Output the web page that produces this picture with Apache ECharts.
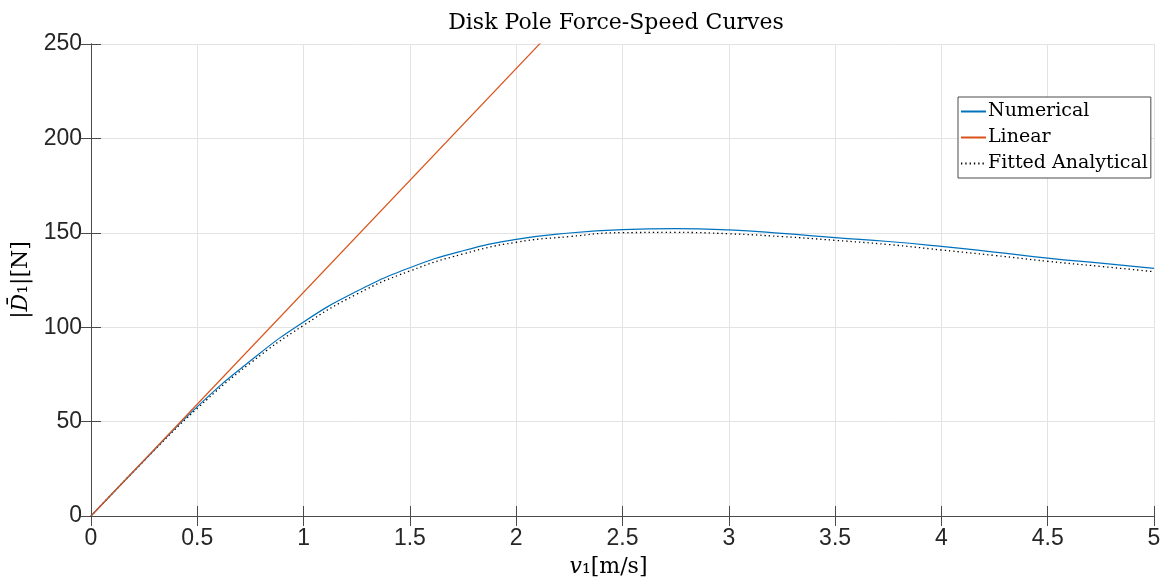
<!DOCTYPE html>
<html>
<head>
<meta charset="utf-8">
<script src="https://cdn.jsdelivr.net/npm/echarts@6/dist/echarts.min.js"></script>
<style>html,body{margin:0;padding:0;background:#fff}#c{width:1169px;height:585px}</style>
</head>
<body>
<div id="c"></div>
<script>
// Speeds v1 [m/s]
const speeds = [0, 0.25, 0.5, 0.75, 1, 1.25, 1.5, 1.75, 2, 2.25, 2.5, 2.75, 3, 3.25, 3.5, 3.75, 4, 4.25, 4.5, 4.75, 5];
// Numerical force |D1| [N]
const numerical = [0, 29.4, 57.9, 82.2, 102.8, 119.0, 131.5, 140.5, 146.5, 149.9, 151.7, 152.2, 151.5, 149.7, 147.4, 145.4, 142.8, 139.8, 136.6, 133.9, 131.2];
// Fitted analytical force |D1| [N]
const fitted = [0, 29.3, 57.0, 81.0, 101.0, 117.5, 129.8, 138.8, 145.0, 148.0, 150.1, 150.2, 149.5, 148.0, 146.0, 143.8, 140.9, 138.0, 134.9, 132.2, 129.4];
// Linear model (clipped at the top of the axes)
const linearX = [0, 5];
const linearY = [0, 592.5];
// Tick settings
const xTicks = {min: 0, max: 5, interval: 0.5};
const yTicks = {min: 0, max: 250, interval: 50};

const pair = (xs, ys) => xs.map((x, i) => [x, ys[i]]);

const axisColor = '#4a4a4a';
const labelColor = '#262626';
const gridColor = '#e3e3e3';
const serif = '"DejaVu Serif", "Liberation Serif", serif';
const sans = '"Liberation Sans", Arial, Helvetica, sans-serif';

const chart = echarts.init(document.getElementById('c'), null, {renderer: 'canvas'});
chart.setOption({
  animation: false,
  backgroundColor: '#ffffff',
  title: {
    text: 'Disk Pole Force-Speed Curves',
    left: 611, top: 7, textAlign: 'center',
    textStyle: {fontFamily: serif, fontWeight: 'normal', fontSize: 22, color: '#000'}
  },
  grid: {left: 91, right: 15, top: 44, bottom: 69, containLabel: false},
  legend: {
    orient: 'vertical',
    left: 958, top: 97,
    backgroundColor: '#ffffff',
    borderColor: '#4a4a4a', borderWidth: 1,
    padding: [5, 3, 5, 2],
    itemWidth: 25, itemHeight: 12, itemGap: 7,
    itemStyle: {opacity: 0},
    textStyle: {fontFamily: serif, fontSize: 19, color: '#000', padding: [0, 0, 0, -3]},
    data: ['Numerical', 'Linear', 'Fitted Analytical']
  },
  xAxis: [
    {
      type: 'value', min: xTicks.min, max: xTicks.max, interval: xTicks.interval,
      position: 'bottom',
      name: '{i|v}{n|₁[m/s]}', nameLocation: 'middle', nameGap: 40,
      nameTextStyle: {
        padding: [0, 28, 0, 0],
        rich: {
          i: {fontFamily: serif, fontStyle: 'italic', fontSize: 22, color: '#000'},
          n: {fontFamily: serif, fontSize: 22, color: '#000'}
        }
      },
      axisLine: {show: true, lineStyle: {color: axisColor, width: 1}},
      axisTick: {show: true, inside: true, length: 10, lineStyle: {color: axisColor}},
      axisLabel: {show: true, margin: 11, fontFamily: sans, fontSize: 23, color: labelColor},
      splitLine: {show: true, lineStyle: {color: gridColor, width: 1}}
    },
    {
      type: 'value', min: xTicks.min, max: xTicks.max, interval: xTicks.interval,
      position: 'top',
      axisLine: {show: true, lineStyle: {color: axisColor, width: 1}},
      axisTick: {show: true, inside: true, length: 10, lineStyle: {color: axisColor}},
      axisLabel: {show: false},
      splitLine: {show: false}
    }
  ],
  yAxis: [
    {
      type: 'value', min: yTicks.min, max: yTicks.max, interval: yTicks.interval,
      position: 'left',
      name: '|{i|D\u0304}{n|₁|[N]}', nameLocation: 'middle', nameGap: 48, nameRotate: 90,
      nameTextStyle: {
        fontFamily: serif, fontSize: 22, color: '#000',
        rich: {
          i: {fontFamily: serif, fontStyle: 'italic', fontSize: 22, color: '#000'},
          n: {fontFamily: serif, fontSize: 22, color: '#000'}
        }
      },
      axisLine: {show: true, lineStyle: {color: axisColor, width: 1}},
      axisTick: {show: true, inside: true, length: 10, lineStyle: {color: axisColor}},
      axisLabel: {show: true, margin: 9, fontFamily: sans, fontSize: 23, color: labelColor},
      splitLine: {show: true, lineStyle: {color: gridColor, width: 1}}
    },
    {
      type: 'value', min: yTicks.min, max: yTicks.max, interval: yTicks.interval,
      position: 'right',
      axisLine: {show: true, lineStyle: {color: axisColor, width: 1}},
      axisTick: {show: true, inside: true, length: 10, lineStyle: {color: axisColor}},
      axisLabel: {show: false},
      splitLine: {show: false}
    }
  ],
  series: [
    {
      name: 'Numerical', type: 'line', xAxisIndex: 0, yAxisIndex: 0,
      data: pair(speeds, numerical), smooth: true,
      showSymbol: false, symbol: 'none',
      lineStyle: {color: '#0072BD', width: 1.2}, itemStyle: {color: '#0072BD'}, z: 3
    },
    {
      name: 'Linear', type: 'line', xAxisIndex: 0, yAxisIndex: 0,
      data: pair(linearX, linearY), clip: true,
      showSymbol: false, symbol: 'none',
      lineStyle: {color: '#D95319', width: 1.2}, itemStyle: {color: '#D95319'}, z: 4
    },
    {
      name: 'Fitted Analytical', type: 'line', xAxisIndex: 0, yAxisIndex: 0,
      data: pair(speeds, fitted), smooth: true,
      showSymbol: false, symbol: 'none',
      lineStyle: {color: '#000000', width: 1.3, type: [1.3, 3]}, itemStyle: {color: '#000000'}, z: 2
    }
  ]
});
</script>
</body>
</html>
